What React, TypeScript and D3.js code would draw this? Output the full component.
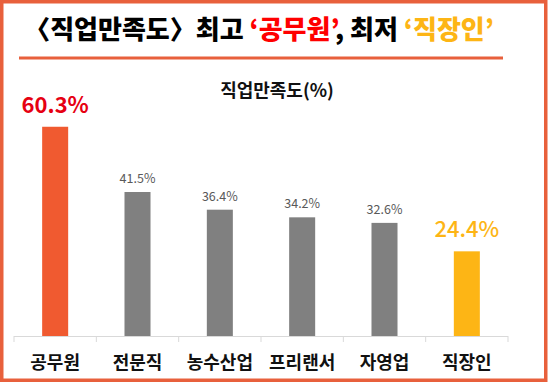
import React from "react";
import * as d3 from "d3";

const categories = ["공무원", "전문직", "농수산업", "프리랜서", "자영업", "직장인"];
const values = [60.3, 41.5, 36.4, 34.2, 32.6, 24.4];
const valueLabels = ["60.3%", "41.5%", "36.4%", "34.2%", "32.6%", "24.4%"];
const barColors = ["#F05A30", "#808080", "#808080", "#808080", "#808080", "#FDB515"];
const titleParts = [
  { text: "〈직업만족도〉최고 ", color: "#000000" },
  { text: "‘공무원’", color: "#FF0000" },
  { text: ", 최저 ", color: "#000000" },
  { text: "‘직장인’", color: "#FDB515" },
];
const subtitle = "직업만족도(%)";

const W = 551;
const H = 387;
const FONT = "'Noto Sans CJK KR', 'Noto Sans', sans-serif";

export default function App() {
  const x = d3
    .scaleBand<string>()
    .domain(categories)
    .range([14, 508])
    .paddingInner(0.684)
    .paddingOuter(0.342);
  const y = d3.scaleLinear().domain([0, 70]).range([336, 93.1]);
  const step = x.step();
  const tickXs = d3.range(categories.length + 1).map((i) => 14 + i * step);

  return (
    <svg
      width={W}
      height={H}
      style={{ position: "absolute", left: 0, top: 0, background: "#fff" }}
      fontFamily={FONT}
    >
      <rect x={0} y={0} width={W} height={H} fill="#fff" />
      <rect
        x={1.75}
        y={1.75}
        width={544}
        height={378.5}
        fill="none"
        stroke="#E8603C"
        strokeWidth={3.5}
      />
      <text x={259} y={39} textAnchor="middle" fontSize={26} fontWeight={900}>
        {titleParts.map((p, i) => (
          <tspan key={i} fill={p.color}>
            {p.text}
          </tspan>
        ))}
      </text>
      <line x1={19} x2={503} y1={58} y2={58} stroke="#E8603C" strokeWidth={3} />
      <text x={277} y={97} textAnchor="middle" fontSize={18} fontWeight={700} fill="#111">
        {subtitle}
      </text>

      <line x1={14} x2={508} y1={336.5} y2={336.5} stroke="#D9D9D9" strokeWidth={1} />
      {tickXs.map((tx, i) => (
        <line key={i} x1={tx} x2={tx} y1={336} y2={342} stroke="#D9D9D9" strokeWidth={1} />
      ))}

      {categories.map((c, i) => {
        const bx = x(c)!;
        const cx = bx + x.bandwidth() / 2;
        const top = y(values[i]);
        const highlight = i === 0 || i === categories.length - 1;
        return (
          <g key={c}>
            <rect x={bx} y={top} width={x.bandwidth()} height={y(0) - top} fill={barColors[i]} />
            {highlight ? (
              <text
                x={cx}
                y={top - 14}
                textAnchor="middle"
                fontSize={22}
                fontWeight={i === 0 ? 700 : 500}
                fill={i === 0 ? "#E60012" : "#FDB515"}
              >
                {valueLabels[i]}
              </text>
            ) : (
              <text x={cx} y={top - 9} textAnchor="middle" fontSize={12.5} fill="#595959">
                {valueLabels[i]}
              </text>
            )}
            <text x={cx} y={369} textAnchor="middle" fontSize={18} fontWeight={700} fill="#111">
              {c}
            </text>
          </g>
        );
      })}
    </svg>
  );
}
